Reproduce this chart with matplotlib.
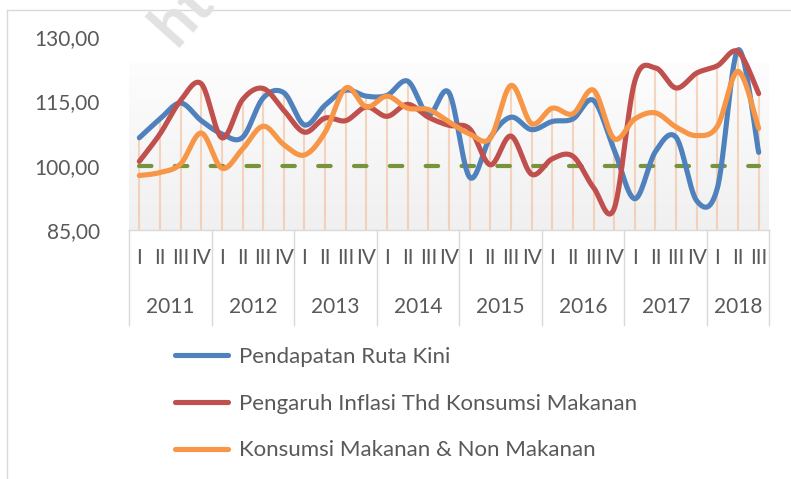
import numpy as np
import matplotlib
matplotlib.use("Agg")
import matplotlib.pyplot as plt

# ---------------- data ----------------
years = ["2011", "2012", "2013", "2014", "2015", "2016", "2017", "2018"]
quarters_per_year = [4, 4, 4, 4, 4, 4, 4, 3]
quarter_names = ["I", "II", "III", "IV"]

pendapatan = [106.5, 110.9, 114.6, 110.5, 107.4, 106.6, 115.8, 117.0,
              109.5, 114.1, 117.6, 116.2, 116.4, 119.7, 111.9, 117.0,
              97.3, 106.6, 111.3, 108.4, 110.3, 110.9, 115.2, 103.7,
              92.3, 103.3, 106.6, 91.8, 94.8, 127.0, 103.1]
inflasi = [101.0, 107.4, 115.2, 119.1, 106.5, 115.4, 118.0, 112.9,
           107.8, 111.1, 110.5, 113.7, 111.5, 114.3, 111.3, 109.4,
           108.6, 100.2, 106.9, 98.0, 101.6, 102.2, 94.9, 90.0,
           119.7, 122.8, 118.1, 121.6, 123.3, 126.6, 116.8]
konsumsi = [97.7, 98.4, 100.4, 107.6, 99.4, 103.9, 109.2, 104.9,
            102.5, 107.8, 118.1, 113.7, 116.2, 113.4, 113.1, 110.2,
            107.4, 106.4, 118.7, 109.8, 113.4, 112.1, 117.6, 106.3,
            110.9, 112.3, 109.0, 107.0, 109.2, 122.0, 108.7]
baseline_value = 100.0

series_labels = ["Pendapatan Ruta Kini",
                 "Pengaruh Inflasi Thd Konsumsi Makanan",
                 "Konsumsi Makanan & Non Makanan"]
series_colors = ["#4f81bd", "#c0504d", "#f79646"]
yticks = [85, 100, 115, 130]
ytick_labels = ["85,00", "100,00", "115,00", "130,00"]

# ---------------- helpers ----------------
def smooth(xs, ys, n=30):
    """Excel-like smoothed line: cubic Bezier through points."""
    P = np.column_stack([xs, ys]).astype(float)
    Pe = np.vstack([P[0], P, P[-1]])
    out = []
    t = np.linspace(0, 1, n)[:, None]
    for i in range(len(P) - 1):
        p0 = Pe[i + 1]
        p3 = Pe[i + 2]
        c1 = p0 + (Pe[i + 2] - Pe[i]) / 6.0
        c2 = p3 - (Pe[i + 3] - Pe[i + 1]) / 6.0
        seg = ((1 - t) ** 3) * p0 + 3 * ((1 - t) ** 2) * t * c1 \
            + 3 * (1 - t) * t ** 2 * c2 + t ** 3 * p3
        out.append(seg if i == 0 else seg[1:])
    out = np.vstack(out)
    return out[:, 0], out[:, 1]

plt.rcParams["font.family"] = ["Lato", "DejaVu Sans"]
W, H = 791, 479
fig = plt.figure(figsize=(W / 100, H / 100), dpi=100)
fig.patch.set_facecolor("white")

ax_l, ax_r, ax_t, ax_b = 129, 769, 37, 230
ax = fig.add_axes([ax_l / W, 1 - ax_b / H, (ax_r - ax_l) / W, (ax_b - ax_t) / H])

n = len(pendapatan)
x = np.arange(n)

# background gradient (white at top, light grey towards the bottom)
vals = np.linspace(130, 85, 400)
col = np.where(vals > 124, 255.0, 253 - (124 - vals) / 39.0 * 13)
img = np.repeat(col[:, None], 3, axis=1)[:, None, :] / 255.0
ax.imshow(img, extent=[-0.5, n - 0.5, 85, 130], aspect="auto", zorder=0,
          interpolation="bilinear")
ax.set_ylim(85, 130)
ax.set_xlim(-0.5, n - 0.5)

# drop lines
tops = np.max(np.vstack([pendapatan, inflasi, konsumsi]), axis=0)
ax.vlines(x, 85, tops, color="#f4b183", alpha=0.5, lw=1.5, zorder=1)

# baseline dashed
ax.plot([0, n - 1], [baseline_value, baseline_value], color="#77933c", lw=3.0,
        dashes=(3.0, 5.6), dash_capstyle="round", zorder=2)

handles = []
for vals_s, c, lab in zip([pendapatan, inflasi, konsumsi], series_colors, series_labels):
    sx, sy = smooth(x, vals_s)
    h, = ax.plot(sx, sy, color=c, lw=3.7, solid_capstyle="round",
                 solid_joinstyle="round", zorder=3, label=lab)
    handles.append(h)

# axes styling
for s in ["top", "right", "left"]:
    ax.spines[s].set_visible(False)
ax.spines["bottom"].set_color("#d9d9d9")
ax.spines["bottom"].set_linewidth(1.0)
ax.set_yticks(yticks)
ax.set_yticklabels(ytick_labels)
ax.tick_params(axis="y", length=0, pad=21, labelsize=15, labelcolor="#595959")
ax.set_xticks([])

# multi-level category axis
trans = ax.get_xaxis_transform()
axis_h = ax_b - ax_t
sep_bottom = -(325 - ax_b) / axis_h
q_y = -(258 - ax_b) / axis_h
y_y = -(307 - ax_b) / axis_h
start = -0.5
idx = 0
bounds = [start]
for yr, nq in zip(years, quarters_per_year):
    for q in range(nq):
        ax.text(idx, q_y, quarter_names[q], transform=trans, ha="center", va="center",
                fontsize=15, color="#595959")
        idx += 1
    end = start + nq
    ax.text((start + end) / 2, y_y, yr, transform=trans, ha="center", va="center",
            fontsize=15, color="#595959")
    bounds.append(end)
    start = end
for b in bounds:
    ax.plot([b, b], [0, sep_bottom], transform=trans, color="#d9d9d9", lw=1.0,
            clip_on=False)

# legend
fig.legend(handles=handles, labels=series_labels, loc="upper left",
           bbox_to_anchor=(175 / W, 1 - 347 / H), frameon=False, fontsize=16,
           handlelength=2.4, handletextpad=0.5, labelspacing=1.2,
           borderpad=0, borderaxespad=0, labelcolor="#595959")

# chart border (partially visible)
fig.add_artist(plt.Line2D([7 / W, 1], [1 - 10 / H, 1 - 10 / H], color="#d9d9d9", lw=1.0))
fig.add_artist(plt.Line2D([7 / W, 7 / W], [0, 1 - 10 / H], color="#d9d9d9", lw=1.0))

# faint watermark fragment (cut by the image edge, as in the source)
fig.text(176 / W, 1 - 48 / H, "http", rotation=48, fontsize=46, fontweight="bold",
         color="#e2e2e2", ha="left", va="baseline", rotation_mode="anchor", zorder=10)

fig.savefig("out.png", dpi=100)
